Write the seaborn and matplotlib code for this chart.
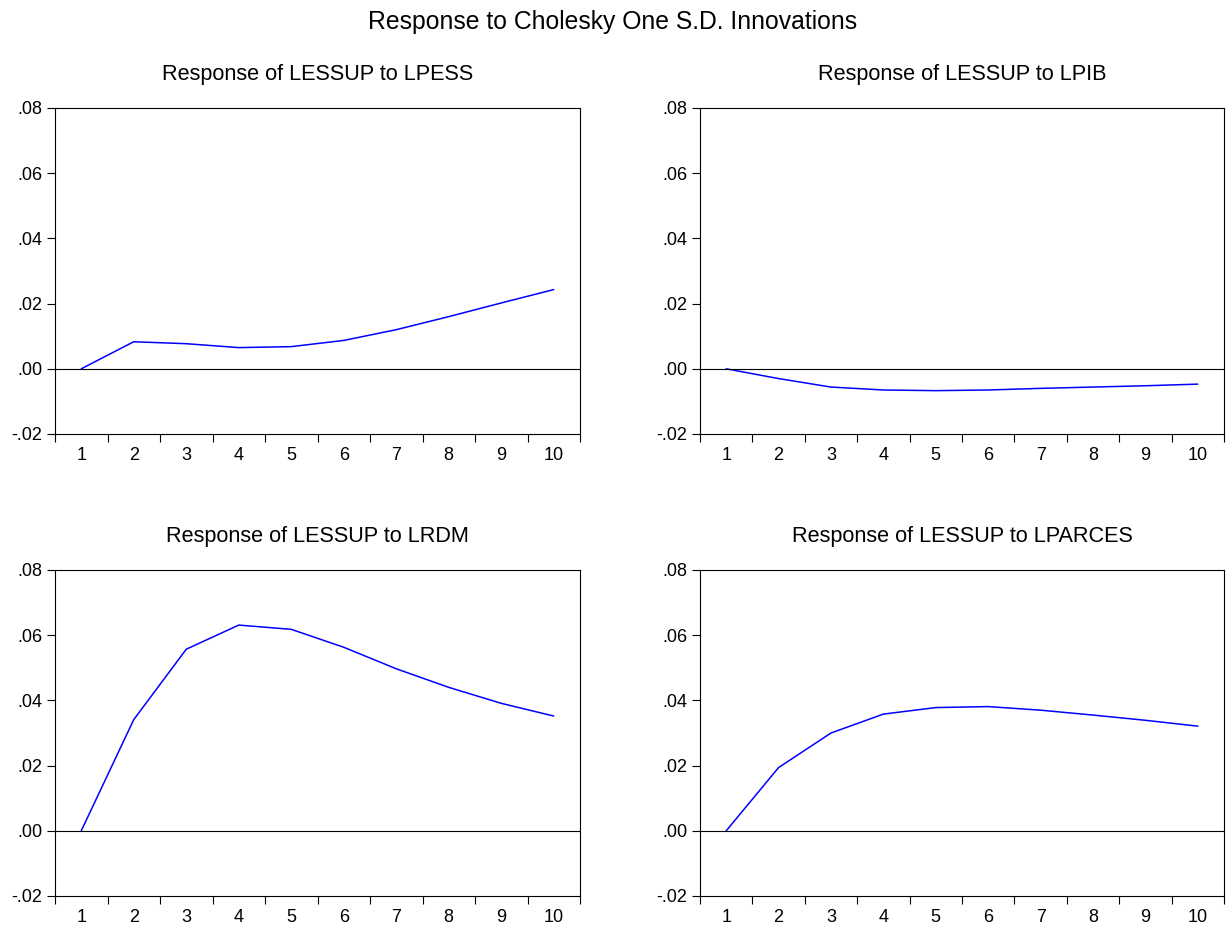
import numpy as np
import pandas as pd
import matplotlib
matplotlib.use("Agg")
import matplotlib.pyplot as plt
import seaborn as sns

periods = [1, 2, 3, 4, 5, 6, 7, 8, 9, 10]
lpess = [0.0, 0.0083, 0.0077, 0.0065, 0.0068, 0.0087, 0.0120, 0.0160, 0.0202, 0.0243]
lpib = [0.0, -0.0030, -0.0056, -0.0065, -0.0067, -0.0065, -0.0060, -0.0056, -0.0052, -0.0047]
lrdm = [0.0, 0.0341, 0.0557, 0.0631, 0.0618, 0.0563, 0.0497, 0.0440, 0.0391, 0.0352]
lparces = [0.0, 0.0194, 0.0300, 0.0358, 0.0378, 0.0381, 0.0370, 0.0355, 0.0339, 0.0321]
titles = ["Response of LESSUP to LPESS", "Response of LESSUP to LPIB",
          "Response of LESSUP to LRDM", "Response of LESSUP to LPARCES"]
ytick_vals = [-0.02, 0.00, 0.02, 0.04, 0.06, 0.08]
ytick_labels = ["-.02", ".00", ".02", ".04", ".06", ".08"]
main_title = "Response to Cholesky One S.D. Innovations"

sns.set_theme(style="white")
plt.rcParams['font.family'] = ['Liberation Sans', 'DejaVu Sans']
plt.rcParams['text.color'] = 'black'
plt.rcParams['xtick.color'] = 'black'
plt.rcParams['ytick.color'] = 'black'
plt.rcParams['axes.labelcolor'] = 'black'

fig = plt.figure(figsize=(12.26, 9.25), dpi=100)
W, H = 1226, 925
boxes = [(55, 108, 580, 434), (700, 108, 1224, 434),
         (55, 570, 580, 896), (700, 570, 1224, 896)]
series = [lpess, lpib, lrdm, lparces]

for (x0, y0, x1, y1), vals, title in zip(boxes, series, titles):
    ax = fig.add_axes([x0 / W, (H - y1) / H, (x1 - x0) / W, (y1 - y0) / H])
    df = pd.DataFrame({"period": periods, "value": vals})
    sns.lineplot(data=df, x="period", y="value", ax=ax, color="#0000ff", linewidth=1.1)
    ax.axhline(0, color="black", linewidth=0.8)
    ax.set_xlim(0.5, 10.5)
    ax.set_ylim(-0.02, 0.08)
    ax.set_xticks(np.arange(0.5, 11, 1.0))
    ax.set_xticklabels([])
    ax.set_xticks(periods, minor=True)
    ax.set_xticklabels([str(p) for p in periods], minor=True)
    ax.tick_params(axis="x", which="major", direction="out", length=6, width=0.8,
                   color="black", bottom=True)
    ax.tick_params(axis="x", which="minor", length=0, labelsize=13, pad=9,
                   labelcolor="black")
    ax.set_yticks(ytick_vals)
    ax.set_yticklabels(ytick_labels)
    ax.tick_params(axis="y", direction="out", length=6, width=0.8, color="black",
                   left=True, labelsize=13, pad=3, labelcolor="black")
    ax.set_xlabel("")
    ax.set_ylabel("")
    for s in ax.spines.values():
        s.set_color("black")
        s.set_linewidth(0.8)
    ax.set_title(title, fontsize=15.6, pad=20, color="black")

fig.text(0.5, 1 - 22 / H, main_title, ha="center", va="center", fontsize=17.8,
         color="black")
fig.savefig("out.png", dpi=100)
